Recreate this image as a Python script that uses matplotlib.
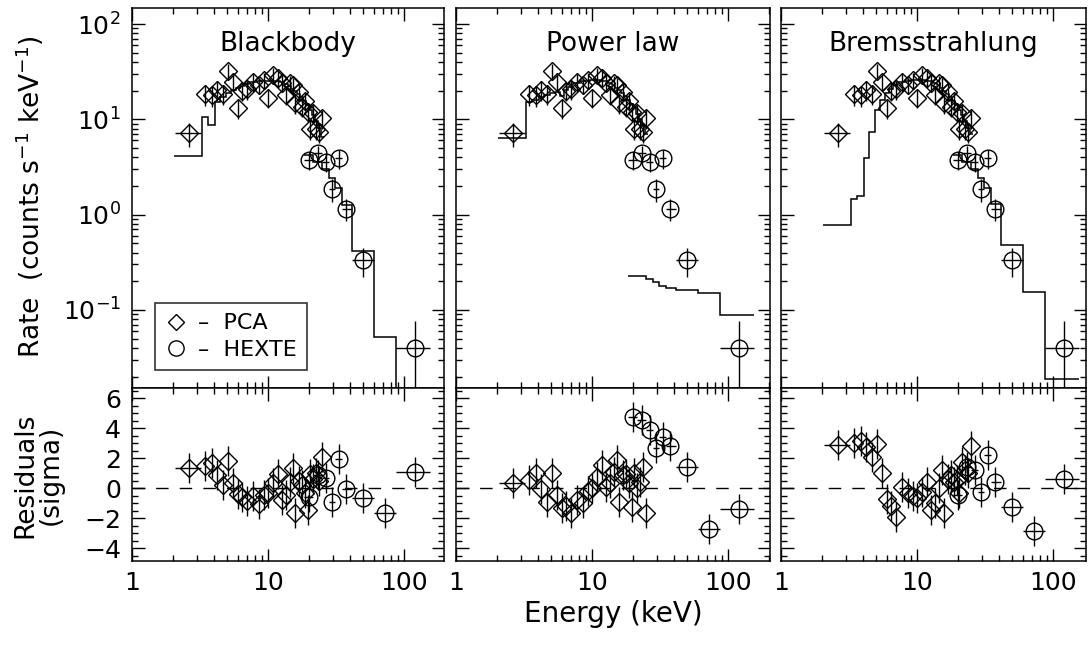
import numpy as np
import matplotlib
matplotlib.use('Agg')
import matplotlib.pyplot as plt
from matplotlib.lines import Line2D
from matplotlib.ticker import LogLocator, NullFormatter, FixedLocator, MultipleLocator

plt.rcParams['font.family'] = ['DejaVu Sans']
plt.rcParams['mathtext.default'] = 'regular'

# ---------------- data ----------------
panel_titles = ['Blackbody', 'Power law', 'Bremsstrahlung']

pca_energy = [2.64, 3.44, 3.86, 4.24, 4.70, 5.05, 5.56, 5.98, 6.45, 6.97,
              7.71, 8.63, 9.40, 10.05, 10.90, 11.90, 12.70, 13.50, 14.40, 15.20,
              15.90, 16.80, 17.70, 18.60, 19.60, 20.50, 21.60, 22.70, 23.80, 25.00]
pca_rate = [7.1, 18.3, 18.0, 20.3, 18.6, 32.4, 24.8, 13.0, 20.0, 20.6,
            24.8, 22.9, 25.8, 16.6, 29.2, 27.0, 24.2, 18.0, 24.0, 22.9,
            14.7, 19.5, 13.5, 15.5, 12.0, 8.0, 11.6, 8.0, 7.4, 10.2]
pca_rate_err = [2.0, 4.5, 4.5, 4.8, 4.5, 6.0, 5.0, 3.0, 4.5, 4.5,
                5.0, 4.5, 5.0, 3.5, 5.5, 5.0, 4.8, 3.8, 4.8, 4.5,
                3.2, 4.0, 3.0, 3.2, 2.6, 2.0, 2.5, 2.0, 1.8, 2.2]
pca_xlo = [2.07] + [None] * 29
pca_xhi = [3.22] + [None] * 29

res_pca_bb = [1.35, 1.47, 1.69, 0.87, 0.20, 1.82, 0.36, -0.40, -0.60, -0.87,
              -0.51, -1.09, -0.47, -0.30, 0.31, 0.93, -0.80, -0.47, 0.40, 1.31,
              -1.69, 0.49, 0.20, -0.30, -1.47, 0.93, 0.60, 1.00, 0.50, 2.09]
res_pca_pl = [0.31, 0.53, 0.98, -0.09, -0.91, 0.98, -0.47, -1.31, -1.20, -1.64,
              -0.80, -1.02, -0.20, 0.00, 0.76, 1.53, 0.09, 0.31, 1.09, 1.87,
              -0.91, 0.87, 0.93, 0.31, -1.24, 0.98, -0.02, 0.42, 1.42, -1.64]
res_pca_br = [2.87, 3.02, 3.16, 2.76, 2.04, 2.93, 0.98, -0.73, -1.20, -1.91,
              0.09, -0.36, -0.50, -0.69, -0.24, 0.42, -1.47, -1.02, 0.00, 1.20,
              -1.64, 0.60, 0.87, 0.40, 0.53, -0.30, 1.76, 1.20, 1.00, 2.80]

hexte_energy = [20.0, 23.4, 26.6, 29.6, 33.0, 37.5, 49.7, 72.5, 121.0]
hexte_xlo = [18.5, 21.5, 25.0, 28.3, 31.2, 35.0, 41.5, 60.0, 87.0]
hexte_xhi = [21.5, 25.0, 28.3, 31.2, 35.0, 41.5, 60.0, 87.0, 155.0]
hexte_rate = [3.74, 4.4, 3.6, 1.84, 3.9, 1.15, 0.334, 0.003, 0.040]
hexte_rate_err = [0.8, 0.9, 0.8, 0.5, 0.9, 0.3, 0.11, 0.004, 0.036]

res_hexte_bb = [-0.58, 0.87, 0.64, -0.91, 1.91, -0.09, -0.69, -1.64, 1.09]
res_hexte_pl = [4.75, 4.53, 3.87, 2.64, 3.42, 2.80, 1.42, -2.76, -1.42]
res_hexte_br = [-0.47, 1.42, 1.20, -0.24, 2.20, 0.38, -1.24, -2.84, 0.58]

pca_model_edges = [2.05, 3.25, 3.65, 4.05, 4.47, 4.88, 5.3, 5.77, 6.2, 6.7, 7.3,
                   8.15, 9.0, 9.7, 10.45, 11.4, 12.3, 13.1, 13.95, 14.8, 15.55,
                   16.35, 17.25, 18.15, 19.1, 20.05, 21.05, 22.15, 23.25, 24.4, 25.6]
pca_model_bb = [4.1, 10.5, 8.7, 15.3, 17.0, 19.0, 20.5, 21.5, 22.5, 23.5,
                24.5, 25.0, 25.5, 25.5, 25.5, 25.0, 24.5, 23.5, 22.5, 21.0,
                20.0, 18.5, 17.0, 15.5, 14.0, 12.5, 11.0, 9.5, 8.2, 6.5]
pca_model_pl = [6.4, 15.3, 15.8, 17.0, 18.0, 19.0, 19.5, 17.5, 20.5, 22.0,
                24.0, 25.0, 25.5, 26.0, 26.0, 25.5, 25.0, 24.0, 23.0, 21.5,
                20.5, 19.0, 17.5, 16.0, 14.5, 13.0, 11.5, 10.0, 8.5, 7.0]
pca_model_br = [0.78, 1.46, 1.55, 3.9, 7.4, 12.5, 16.0, 19.0, 21.0, 23.0,
                24.5, 25.5, 26.0, 26.0, 26.0, 25.5, 25.0, 24.0, 23.0, 21.5,
                20.0, 18.5, 17.0, 15.5, 14.0, 12.5, 11.0, 9.5, 8.2, 7.0]

hexte_model_edges = [18.5, 21.5, 25.0, 28.3, 31.2, 35.0, 41.5, 60.0, 87.0, 155.0]
hexte_model_bb = [4.2, 3.6, 3.0, 2.4, 1.9, 1.25, 0.42, 0.052, 0.004]
hexte_model_pl = [0.229, 0.226, 0.21, 0.195, 0.18, 0.17, 0.163, 0.150, 0.0885]
hexte_model_br = [4.2, 3.6, 3.0, 2.4, 1.9, 1.3, 0.48, 0.155, 0.0187]

legend_labels = ['\u2013  PCA', '\u2013  HEXTE']
ytick_top = [0.1, 1, 10, 100]
ytick_res = [-4, -2, 0, 2, 4, 6]
xtick_vals = [1, 10, 100]

# ---------------- layout ----------------
W, H = 1088, 646
fig = plt.figure(figsize=(W / 100, H / 100), dpi=100)
lefts = [132, 456, 781]
rights = [444, 770, 1086]
y_top, y_mid, y_bot = 7.5, 388, 561
px_per_decade = 136.0
FS = 18

pca_models = [pca_model_bb, pca_model_pl, pca_model_br]
hexte_models = [hexte_model_bb, hexte_model_pl, hexte_model_br]
pca_res = [res_pca_bb, res_pca_pl, res_pca_br]
hexte_res = [res_hexte_bb, res_hexte_pl, res_hexte_br]

E_p = np.array(pca_energy)
E_h = np.array(hexte_energy)
pca_xerr = np.array([[0 if lo is None else e - lo for e, lo in zip(pca_energy, pca_xlo)],
                     [0 if hi is None else hi - e for e, hi in zip(pca_energy, pca_xhi)]])
hexte_xerr = np.array([E_h - np.array(hexte_xlo), np.array(hexte_xhi) - E_h])

def lower_err(vals, errs):
    v = np.array(vals); e = np.array(errs)
    return np.minimum(e, v - 1e-4)

tick_kw = dict(direction='in', top=True, right=True, width=1.0, color='k')

for i in range(3):
    l, r = lefts[i], rights[i]
    xmax = 10 ** ((r - l) / px_per_decade)
    axt = fig.add_axes([l / W, 1 - y_mid / H, (r - l) / W, (y_mid - y_top) / H])
    axb = fig.add_axes([l / W, 1 - y_bot / H, (r - l) / W, (y_bot - y_mid) / H])
    for ax in (axt, axb):
        ax.set_xscale('log')
        ax.set_xlim(1, xmax)
        for s in ax.spines.values():
            s.set_linewidth(1.1)
        ax.xaxis.set_major_locator(FixedLocator(xtick_vals))
        ax.xaxis.set_minor_locator(LogLocator(base=10, subs=np.arange(2, 10)))
        ax.xaxis.set_minor_formatter(NullFormatter())
        ax.tick_params(which='major', length=9, **tick_kw)
        ax.tick_params(which='minor', length=4.5, **tick_kw)

    # top panel
    axt.set_yscale('log')
    axt.set_ylim(10 ** (2 - (y_mid - 24) / 95.3), 10 ** (2 + (24 - y_top) / 95.3))
    axt.yaxis.set_major_locator(FixedLocator(ytick_top))
    axt.yaxis.set_minor_locator(LogLocator(base=10, subs=np.arange(2, 10)))
    axt.yaxis.set_minor_formatter(NullFormatter())
    axt.stairs(pca_models[i], pca_model_edges, color='k', lw=1.1, baseline=None)
    axt.stairs(hexte_models[i], hexte_model_edges, color='k', lw=1.1, baseline=None)
    axt.errorbar(E_p, pca_rate, yerr=[lower_err(pca_rate, pca_rate_err), pca_rate_err],
                 xerr=pca_xerr, fmt='D', ms=9.5, mfc='none', mec='k', mew=1.0,
                 ecolor='k', elinewidth=1.0, capsize=0)
    axt.errorbar(E_h, hexte_rate, yerr=[lower_err(hexte_rate, hexte_rate_err), hexte_rate_err],
                 xerr=hexte_xerr, fmt='o', ms=12, mfc='none', mec='k', mew=1.0,
                 ecolor='k', elinewidth=1.0, capsize=0)
    axt.text(0.5, 0.905, panel_titles[i], transform=axt.transAxes, ha='center',
             va='center', fontsize=19)
    axt.set_xticklabels([])

    # residual panel
    axb.set_ylim(-(y_bot - 488) / 15.0, (488 - y_mid) / 15.0)
    axb.yaxis.set_major_locator(FixedLocator(ytick_res))
    axb.yaxis.set_minor_locator(MultipleLocator(0.5))
    axb.axhline(0, color='k', lw=1.0, ls=(0, (9, 8)))
    axb.errorbar(E_p, pca_res[i], yerr=1.0, xerr=pca_xerr, fmt='D', ms=9.5, mfc='none',
                 mec='k', mew=1.0, ecolor='k', elinewidth=1.0, capsize=0)
    axb.errorbar(E_h, hexte_res[i], yerr=1.0, xerr=hexte_xerr, fmt='o', ms=12, mfc='none',
                 mec='k', mew=1.0, ecolor='k', elinewidth=1.0, capsize=0)
    axb.set_xticklabels([str(v) for v in xtick_vals], fontsize=FS)
    axb.tick_params(axis='x', which='major', pad=7)

    if i == 0:
        axt.set_yticklabels(['$10^{%d}$' % int(np.log10(v)) for v in ytick_top], fontsize=FS)
        axb.set_yticklabels([str(v).replace('-', '\u2212') for v in ytick_res], fontsize=FS)
        axt.tick_params(axis='y', which='major', pad=8)
        axb.tick_params(axis='y', which='major', pad=8)
        handles = [Line2D([], [], marker='D', ls='none', mfc='none', mec='k', ms=8.5, mew=1.0,
                          label=legend_labels[0]),
                   Line2D([], [], marker='o', ls='none', mfc='none', mec='k', ms=11, mew=1.0,
                          label=legend_labels[1])]
        leg = axt.legend(handles=handles, loc='lower left', bbox_to_anchor=(0.074, 0.047),
                         frameon=True, fancybox=False, edgecolor='k', fontsize=16,
                         handlelength=1.0, handletextpad=0.5, borderpad=0.45,
                         labelspacing=0.3, borderaxespad=0)
        leg.get_frame().set_linewidth(1.2)
    else:
        axt.set_yticklabels([])
        axb.set_yticklabels([])

fig.text(30 / W, 1 - 197 / H, 'Rate  (counts s$^{-1}$ keV$^{-1}$)', rotation=90,
         ha='center', va='center', fontsize=19)
fig.text(38 / W, 1 - 475 / H, 'Residuals\n(sigma)', rotation=90, ha='center',
         va='center', fontsize=19, linespacing=1.0)
fig.text(613 / W, 1 - 614 / H, 'Energy (keV)', ha='center', va='center', fontsize=20)

fig.savefig('out.png', dpi=100)
